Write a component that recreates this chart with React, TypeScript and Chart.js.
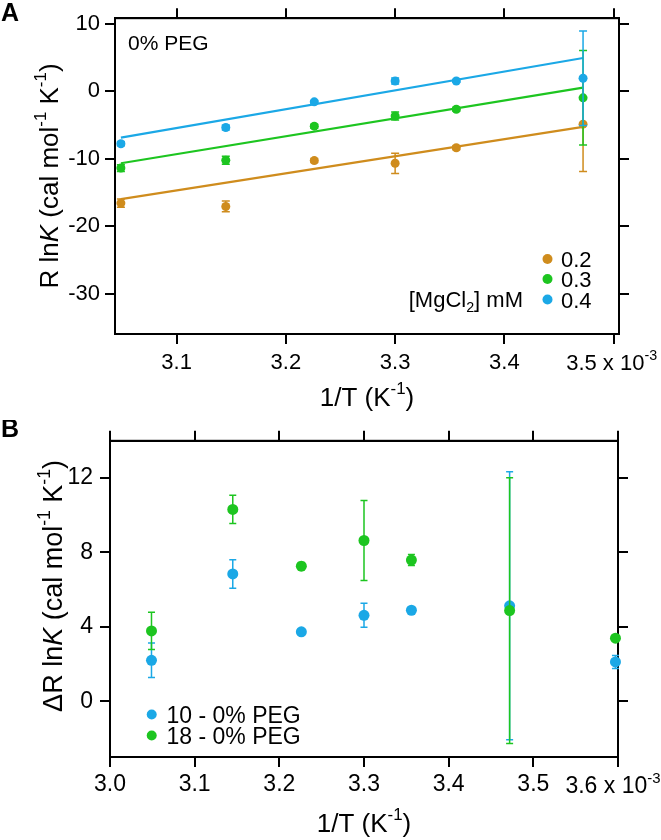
import React, { useEffect, useRef } from "react";
import { Chart, registerables } from "chart.js";

Chart.register(...registerables);

const FONT = '"Liberation Sans", Arial, Helvetica, sans-serif';
const ORANGE = "#CF8C1D";
const GREEN = "#1DC520";
const BLUE = "#1BA8E6";

// ---------- Panel A : 0% PEG ----------
const invTA = [3.049, 3.145, 3.226, 3.3, 3.356, 3.472];
const mg02 = [-16.6, -17.1, -10.3, -10.7, -8.4, -4.9];
const mg02Err = [0.6, 0.8, 0.3, 1.5, 0.3, 7.0];
const mg03 = [-11.4, -10.25, -5.2, -3.7, -2.7, -1.0];
const mg03Err = [0.5, 0.6, 0.3, 0.6, 0.3, 7.0];
const mg04 = [-7.8, -5.4, -1.6, 1.5, 1.5, 1.9];
const mg04Err = [0.3, 0.35, 0.2, 0.45, 0.2, 7.0];
const fitXA = [3.049, 3.472];
const fit02 = [-16.0, -5.3];
const fit03 = [-10.7, 0.5];
const fit04 = [-6.9, 4.9];
const mgLabels = ["0.2", "0.3", "0.4"];
const xTicksA = [3.1, 3.2, 3.3, 3.4, 3.5];
const yTicksA = [10, 0, -10, -20, -30];

// ---------- Panel B : difference to 0% PEG ----------
const invTB = [3.049, 3.145, 3.226, 3.3, 3.356, 3.472, 3.597];
const peg10 = [2.2, 6.84, 3.73, 4.62, 4.89, 5.13, 2.11];
const peg10Err = [0.93, 0.77, 0.15, 0.65, 0.15, 7.2, 0.35];
const peg18 = [3.78, 10.31, 7.26, 8.64, 7.59, 4.87, 3.39];
const peg18Err = [1.0, 0.76, 0.2, 2.15, 0.3, 7.15, 0.15];
const pegLabels = ["10 - 0% PEG", "18 - 0% PEG"];
const xTicksB = [3.0, 3.1, 3.2, 3.3, 3.4, 3.5, 3.6];
const yTicksB = [12, 8, 4, 0];

type Seg = { t: string; italic?: boolean; sup?: boolean; sub?: boolean };

function segFont(size: number, s: Seg) {
  const sz = s.sup || s.sub ? size * 0.65 : size;
  return `${s.italic ? "italic " : ""}${sz}px ${FONT}`;
}
function measureRich(ctx: CanvasRenderingContext2D, segs: Seg[], size: number) {
  let w = 0;
  for (const s of segs) {
    ctx.font = segFont(size, s);
    w += ctx.measureText(s.t).width;
  }
  return w;
}
function drawRich(
  ctx: CanvasRenderingContext2D,
  segs: Seg[],
  size: number,
  x: number,
  y: number,
  align: "left" | "center" | "right"
) {
  const w = measureRich(ctx, segs, size);
  let cx = align === "center" ? x - w / 2 : align === "right" ? x - w : x;
  ctx.textAlign = "left";
  ctx.textBaseline = "alphabetic";
  for (const s of segs) {
    ctx.font = segFont(size, s);
    const dy = s.sup ? -size * 0.45 : s.sub ? size * 0.22 : 0;
    ctx.fillText(s.t, cx, y + dy);
    cx += ctx.measureText(s.t).width;
  }
}
function drawRotated(ctx: CanvasRenderingContext2D, segs: Seg[], size: number, x: number, y: number) {
  ctx.save();
  ctx.translate(x, y);
  ctx.rotate(-Math.PI / 2);
  drawRich(ctx, segs, size, 0, 0, "center");
  ctx.restore();
}

const pts = (xs: number[], ys: number[]) => xs.map((x, i) => ({ x, y: ys[i] }));

const errorBarPlugin = {
  id: "errbars",
  afterDatasetDraw(chart: any, args: any) {
    const ds = chart.data.datasets[args.index];
    if (!ds.errorBars) return;
    const ctx: CanvasRenderingContext2D = chart.ctx;
    const xs = chart.scales.x;
    const ys = chart.scales.y;
    const cap = ds.capHalf ?? 4;
    ctx.save();
    ctx.strokeStyle = ds.pointBackgroundColor;
    ctx.lineWidth = 1.5;
    ds.data.forEach((p: any, i: number) => {
      const e = ds.errorBars[i];
      const px = xs.getPixelForValue(p.x);
      const y1 = ys.getPixelForValue(p.y - e);
      const y2 = ys.getPixelForValue(p.y + e);
      ctx.beginPath();
      ctx.moveTo(px, y1);
      ctx.lineTo(px, y2);
      ctx.moveTo(px - cap, y1);
      ctx.lineTo(px + cap, y1);
      ctx.moveTo(px - cap, y2);
      ctx.lineTo(px + cap, y2);
      ctx.stroke();
    });
    ctx.restore();
  },
};

const framePlugin = {
  id: "frame",
  beforeDatasetsDraw(chart: any) {
    const { ctx, chartArea: a } = chart;
    ctx.save();
    ctx.strokeStyle = "#000";
    ctx.lineWidth = 2;
    ctx.strokeRect(a.left, a.top, a.right - a.left, a.bottom - a.top);
    ctx.restore();
  },
};

const gridCfg = (tl: number) => ({
  display: true,
  drawOnChartArea: false,
  drawTicks: true,
  tickLength: tl,
  tickWidth: 2,
  tickColor: "#000",
  color: "#000",
  lineWidth: 2,
});
const borderCfg = { display: true, color: "#000", width: 2 };

function buildScales(p: {
  xmin: number; xmax: number; ymin: number; ymax: number;
  xTicks: number[]; yTicks: number[];
  left: number; right: number; top: number; bottom: number;
  fontSize: number; xPad: number; yPad: number; tl: number;
}) {
  const setX = (s: any) => { s.ticks = p.xTicks.map((value) => ({ value })); };
  const setY = (s: any) => { s.ticks = p.yTicks.map((value) => ({ value })); };
  const font = { family: FONT, size: p.fontSize };
  return {
    x: {
      type: "linear", position: "bottom", min: p.xmin, max: p.xmax,
      afterBuildTicks: setX,
      afterFit: (s: any) => { s.height = p.bottom; },
      ticks: {
        font, color: "#000", padding: p.xPad, maxRotation: 0, autoSkip: false,
        callback: (v: any, i: number, t: any[]) => (i === t.length - 1 ? "" : Number(v).toFixed(1)),
      },
      grid: gridCfg(p.tl), border: borderCfg,
    },
    x2: {
      type: "linear", position: "top", min: p.xmin, max: p.xmax,
      afterBuildTicks: setX,
      afterFit: (s: any) => { s.height = p.top; },
      ticks: { display: false },
      grid: gridCfg(p.tl), border: borderCfg,
    },
    y: {
      type: "linear", position: "left", min: p.ymin, max: p.ymax,
      afterBuildTicks: setY,
      afterFit: (s: any) => { s.width = p.left; },
      ticks: { font, color: "#000", padding: p.yPad, autoSkip: false, callback: (v: any) => String(v) },
      grid: gridCfg(p.tl), border: borderCfg,
    },
    y2: {
      type: "linear", position: "right", min: p.ymin, max: p.ymax,
      afterBuildTicks: setY,
      afterFit: (s: any) => { s.width = p.right; },
      ticks: { display: false },
      grid: gridCfg(p.tl), border: borderCfg,
    },
  };
}

const ptDs = (label: string, xs: number[], ys: number[], err: number[], color: string, r: number, cap: number) => ({
  label,
  data: pts(xs, ys),
  showLine: false,
  pointRadius: r,
  pointHoverRadius: r,
  pointBorderWidth: 0,
  pointBackgroundColor: color,
  borderColor: color,
  errorBars: err,
  capHalf: cap,
  clip: false,
});
const lineDs = (label: string, xs: number[], ys: number[], color: string) => ({
  label,
  data: pts(xs, ys),
  showLine: true,
  pointRadius: 0,
  borderColor: color,
  borderWidth: 2.2,
  fill: false,
});

const labelPluginA = {
  id: "labelsA",
  afterDraw(chart: any) {
    const ctx: CanvasRenderingContext2D = chart.ctx;
    const xs = chart.scales.x;
    ctx.save();
    ctx.fillStyle = "#000";
    ctx.textAlign = "left";
    ctx.textBaseline = "alphabetic";
    ctx.font = `bold 25px ${FONT}`;
    ctx.fillText("A", 1, 21);
    ctx.font = `21px ${FONT}`;
    ctx.fillText("0% PEG", 128, 50);
    drawRich(ctx, [{ t: "1/T (K" }, { t: "-1", sup: true }, { t: ")" }], 26, 367, 406, "center");
    drawRotated(
      ctx,
      [{ t: "R ln" }, { t: "K", italic: true }, { t: " (cal mol" }, { t: "-1", sup: true }, { t: " K" }, { t: "-1", sup: true }, { t: ")" }],
      26, 58, 176
    );
    const last = xTicksA[xTicksA.length - 1];
    drawRich(ctx, [{ t: `${last.toFixed(1)} x 10` }, { t: "-3", sup: true }], 22, xs.getPixelForValue(last) - 2, 370, "center");
    // legend
    const colors = [ORANGE, GREEN, BLUE];
    const ly = [259, 279, 299.5];
    mgLabels.forEach((lab, i) => {
      ctx.fillStyle = colors[i];
      ctx.beginPath();
      ctx.arc(547.5, ly[i], 5, 0, Math.PI * 2);
      ctx.fill();
      ctx.fillStyle = "#000";
      ctx.font = `22px ${FONT}`;
      ctx.fillText(lab, 561, ly[i] + 8);
    });
    drawRich(ctx, [{ t: "[MgCl" }, { t: "2", sub: true }, { t: "] mM" }], 22, 523, 307, "right");
    ctx.restore();
  },
};

const labelPluginB = {
  id: "labelsB",
  afterDraw(chart: any) {
    const ctx: CanvasRenderingContext2D = chart.ctx;
    const xs = chart.scales.x;
    ctx.save();
    ctx.fillStyle = "#000";
    ctx.textAlign = "left";
    ctx.textBaseline = "alphabetic";
    ctx.font = `bold 25px ${FONT}`;
    ctx.fillText("B", 1, 17);
    drawRich(ctx, [{ t: "1/T (K" }, { t: "-1", sup: true }, { t: ")" }], 26, 364, 412, "center");
    drawRotated(
      ctx,
      [{ t: "ΔR ln" }, { t: "K", italic: true }, { t: " (cal mol" }, { t: "-1", sup: true }, { t: " K" }, { t: "-1", sup: true }, { t: ")" }],
      27, 62, 166
    );
    const last = xTicksB[xTicksB.length - 1];
    drawRich(ctx, [{ t: `${last.toFixed(1)} x 10` }, { t: "-3", sup: true }], 23, xs.getPixelForValue(last) - 5, 373, "center");
    const colors = [BLUE, GREEN];
    const ly = [294.5, 315.5];
    pegLabels.forEach((lab, i) => {
      ctx.fillStyle = colors[i];
      ctx.beginPath();
      ctx.arc(151.7, ly[i], 5, 0, Math.PI * 2);
      ctx.fill();
      ctx.fillStyle = "#000";
      ctx.font = `23px ${FONT}`;
      ctx.fillText(lab, 166.5, ly[i] + 8);
    });
    ctx.restore();
  },
};

const baseOptions = {
  responsive: false,
  maintainAspectRatio: false,
  animation: false,
  devicePixelRatio: 1,
  events: [],
  layout: { padding: 0 },
  plugins: { legend: { display: false }, tooltip: { enabled: false } },
};

export default function App() {
  const refA = useRef<HTMLCanvasElement>(null);
  const refB = useRef<HTMLCanvasElement>(null);

  useEffect(() => {
    const chartA = new Chart(refA.current as HTMLCanvasElement, {
      type: "scatter",
      data: {
        datasets: [
          ptDs("0.4", invTA, mg04, mg04Err, BLUE, 4.5, 4),
          ptDs("0.3", invTA, mg03, mg03Err, GREEN, 4.5, 4),
          ptDs("0.2", invTA, mg02, mg02Err, ORANGE, 4.5, 4),
          lineDs("fit 0.4", fitXA, fit04, BLUE),
          lineDs("fit 0.3", fitXA, fit03, GREEN),
          lineDs("fit 0.2", fitXA, fit02, ORANGE),
        ] as any,
      },
      options: {
        ...baseOptions,
        scales: buildScales({
          xmin: 3.0436, xmax: 3.5049, ymin: -36, ymax: 10.8,
          xTicks: xTicksA, yTicks: yTicksA,
          left: 115, right: 42, top: 16, bottom: 86,
          fontSize: 22, xPad: 6, yPad: 5, tl: 10,
        }),
      } as any,
      plugins: [framePlugin, errorBarPlugin, labelPluginA] as any,
    });

    const chartB = new Chart(refB.current as HTMLCanvasElement, {
      type: "scatter",
      data: {
        datasets: [
          ptDs("18 - 0% PEG", invTB, peg18, peg18Err, GREEN, 5.5, 3.5),
          ptDs("10 - 0% PEG", invTB, peg10, peg10Err, BLUE, 5.5, 3.5),
        ] as any,
      },
      options: {
        ...baseOptions,
        scales: buildScales({
          xmin: 3.0, xmax: 3.6, ymin: -3, ymax: 14,
          xTicks: xTicksB, yTicks: yTicksB,
          left: 110, right: 43, top: 14, bottom: 83,
          fontSize: 23, xPad: 4, yPad: 7, tl: 10,
        }),
      } as any,
      plugins: [framePlugin, errorBarPlugin, labelPluginB] as any,
    });

    return () => {
      chartA.destroy();
      chartB.destroy();
    };
  }, []);

  return (
    <div style={{ position: "absolute", left: 0, top: 0, width: 661, height: 840, background: "#fff" }}>
      <canvas ref={refA} width={661} height={420} style={{ display: "block", width: 661, height: 420 }} />
      <canvas ref={refB} width={661} height={420} style={{ display: "block", width: 661, height: 420 }} />
    </div>
  );
}
